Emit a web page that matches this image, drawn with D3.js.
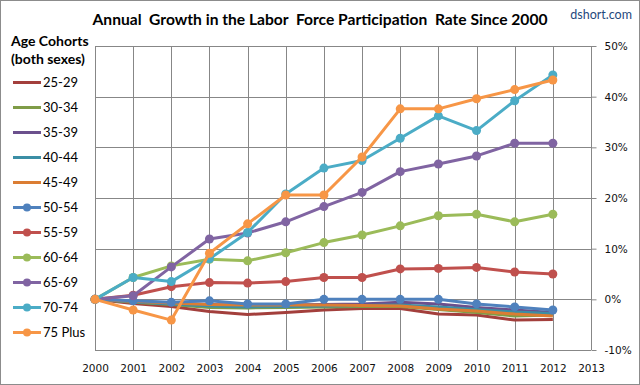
<!DOCTYPE html>
<html>
<head>
<meta charset="utf-8">
<script src="https://cdn.jsdelivr.net/npm/d3@7"></script>
<style>
body { margin: 0; background: #fff; }
svg { display: block; }
</style>
</head>
<body>
<div id="chart"></div>
<script>
// years the data covers and the axis labels
var years = [2000, 2001, 2002, 2003, 2004, 2005, 2006, 2007, 2008, 2009, 2010, 2011, 2012];
var yearTicks = [2000, 2001, 2002, 2003, 2004, 2005, 2006, 2007, 2008, 2009, 2010, 2011, 2012, 2013];
var pctTicks = [-10, 0, 10, 20, 30, 40, 50];

// cohorts (legend order)
var cohorts = ["25-29", "30-34", "35-39", "40-44", "45-49", "50-54", "55-59", "60-64", "65-69", "70-74", "75 Plus"];
var colors = ["#a33f3c", "#7f9c47", "#6b508d", "#3b8ea5", "#db7d33",
              "#4f81bd", "#c0504d", "#9bbb59", "#8064a2", "#4bacc6", "#f79646"];
var hasMarker = [false, false, false, false, false, true, true, true, true, true, true];

// growth since 2000, in percent
var c25_29 = [0, -0.8, -1.4, -2.4, -3.0, -2.6, -2.1, -1.8, -1.8, -2.9, -3.1, -4.1, -4.0];
var c30_34 = [0, -0.6, -1.0, -1.6, -1.7, -1.6, -1.5, -1.4, -1.4, -2.0, -2.6, -3.3, -3.1];
var c35_39 = [0, -0.4, -0.8, -1.0, -1.2, -1.1, -1.0, -0.9, -0.6, -0.9, -1.6, -2.1, -2.6];
var c40_44 = [0, -0.5, -0.9, -1.3, -1.5, -1.4, -1.3, -1.2, -1.1, -1.5, -2.0, -2.5, -2.8];
var c45_49 = [0, -0.4, -0.7, -1.0, -1.1, -1.1, -1.1, -1.2, -1.3, -1.9, -2.3, -2.9, -3.3];
var c50_54 = [0, -0.3, -0.6, -0.3, -0.9, -0.9, 0, 0, 0, 0, -0.9, -1.5, -2.1];
var c55_59 = [0, 0.8, 2.5, 3.3, 3.2, 3.5, 4.3, 4.3, 6.0, 6.1, 6.3, 5.4, 5.0];
var c60_64 = [0, 4.3, 6.6, 7.9, 7.6, 9.2, 11.2, 12.7, 14.5, 16.5, 16.8, 15.3, 16.8];
var c65_69 = [0, 0.7, 6.4, 11.9, 13.1, 15.3, 18.3, 21.1, 25.2, 26.7, 28.3, 30.8, 30.8];
var c70_74 = [0, 4.3, 3.5, 8.0, 13.2, 20.8, 25.9, 27.4, 31.8, 36.2, 33.3, 39.2, 44.3];
var c75plus = [0, -2.1, -4.1, 9.1, 14.9, 20.6, 20.6, 28.1, 37.6, 37.6, 39.6, 41.4, 43.3];

var seriesValues = [c25_29, c30_34, c35_39, c40_44, c45_49, c50_54, c55_59, c60_64, c65_69, c70_74, c75plus];

var width = 640, height = 385;
var margin = {top: 46, right: 49, bottom: 35, left: 95};

var svg = d3.select("#chart")
  .append("svg")
  .attr("width", width)
  .attr("height", height);

// outer frame
svg.append("rect")
  .attr("x", 0.5).attr("y", 0.5)
  .attr("width", width - 1).attr("height", height - 1)
  .attr("fill", "#fff")
  .attr("stroke", "#8c8c8c");

var x = d3.scaleLinear()
  .domain([2000, 2013])
  .range([margin.left, width - margin.right]);

var y = d3.scaleLinear()
  .domain([-10, 50])
  .range([height - margin.bottom, margin.top]);

var gridColor = "#878787";

// horizontal gridlines
svg.append("g")
  .selectAll("line")
  .data(pctTicks)
  .enter()
  .append("line")
  .attr("x1", x(2000)).attr("x2", x(2013))
  .attr("y1", function(d) { return Math.round(y(d)) + 0.5; })
  .attr("y2", function(d) { return Math.round(y(d)) + 0.5; })
  .attr("stroke", gridColor);

// vertical gridlines
svg.append("g")
  .selectAll("line")
  .data(yearTicks)
  .enter()
  .append("line")
  .attr("x1", function(d) { return Math.round(x(d)) + 0.5; })
  .attr("x2", function(d) { return Math.round(x(d)) + 0.5; })
  .attr("y1", y(50)).attr("y2", y(-10))
  .attr("stroke", gridColor);

// right value axis
var yAxis = svg.append("g")
  .attr("transform", "translate(" + (Math.round(x(2013)) + 0.5) + ",0)")
  .call(d3.axisRight(y)
    .tickValues(pctTicks)
    .tickSize(5)
    .tickPadding(8)
    .tickFormat(function(d) { return d + "%"; }));
yAxis.select(".domain").attr("stroke", gridColor).attr("d", "M0," + y(50) + "V" + y(-10));
yAxis.selectAll(".tick line").attr("stroke", gridColor);
yAxis.selectAll("text")
  .attr("font-family", "DejaVu Sans")
  .attr("font-size", 10.5)
  .attr("fill", "#111");

// bottom year axis
var xAxis = svg.append("g")
  .attr("transform", "translate(0," + y(-10) + ")")
  .call(d3.axisBottom(x)
    .tickValues(yearTicks)
    .tickSize(0)
    .tickPadding(15)
    .tickFormat(d3.format("d")));
xAxis.select(".domain").remove();
xAxis.selectAll("text")
  .attr("font-family", "DejaVu Sans")
  .attr("font-size", 10.5)
  .attr("fill", "#111");

// lines
var line = d3.line()
  .x(function(d, i) { return x(years[i]); })
  .y(function(d) { return y(d); });

var seriesG = svg.append("g");
seriesValues.forEach(function(vals, k) {
  var g = seriesG.append("g");
  g.append("path")
    .datum(vals)
    .attr("d", line)
    .attr("fill", "none")
    .attr("stroke", colors[k])
    .attr("stroke-width", 3)
    .attr("stroke-linejoin", "round");
  if (hasMarker[k]) {
    g.selectAll("circle")
      .data(vals)
      .enter()
      .append("circle")
      .attr("cx", function(d, i) { return x(years[i]); })
      .attr("cy", function(d) { return y(d); })
      .attr("r", 4.5)
      .attr("fill", colors[k]);
  }
});

// title (keeps the wider gaps of the original)
svg.append("text")
  .attr("x", 320)
  .attr("y", 25)
  .attr("text-anchor", "middle")
  .attr("font-family", "Lato")
  .attr("font-weight", "bold")
  .attr("font-size", 16)
  .attr("fill", "#000")
  .attr("textLength", 455)
  .attr("lengthAdjust", "spacingAndGlyphs")
  .style("white-space", "pre")
  .text("Annual  Growth in the Labor  Force Participation  Rate Since 2000");

svg.append("text")
  .attr("x", 632)
  .attr("y", 19)
  .attr("text-anchor", "end")
  .attr("font-family", "Lato")
  .attr("font-size", 12.5)
  .attr("fill", "#1f497d")
  .text("dshort.com");

// legend
var legend = svg.append("g").attr("font-family", "Lato");
legend.append("text")
  .attr("x", 11).attr("y", 46)
  .attr("font-weight", "bold").attr("font-size", 14)
  .text("Age Cohorts");
legend.append("text")
  .attr("x", 11).attr("y", 64)
  .attr("font-weight", "bold").attr("font-size", 14)
  .text("(both sexes)");

var item = legend.selectAll(".item")
  .data(cohorts)
  .enter()
  .append("g")
  .attr("transform", function(d, i) { return "translate(0," + (82.5 + i * 25) + ")"; });
item.append("line")
  .attr("x1", 13).attr("x2", 41)
  .attr("stroke", function(d, i) { return colors[i]; })
  .attr("stroke-width", 3);
item.filter(function(d, i) { return hasMarker[i]; })
  .append("circle")
  .attr("cx", 27).attr("r", 4)
  .attr("fill", function(d) { return colors[cohorts.indexOf(d)]; });
item.append("text")
  .attr("x", 43).attr("dy", "0.35em")
  .attr("font-size", 13)
  .attr("fill", "#000")
  .text(function(d) { return d; });
</script>
</body>
</html>
